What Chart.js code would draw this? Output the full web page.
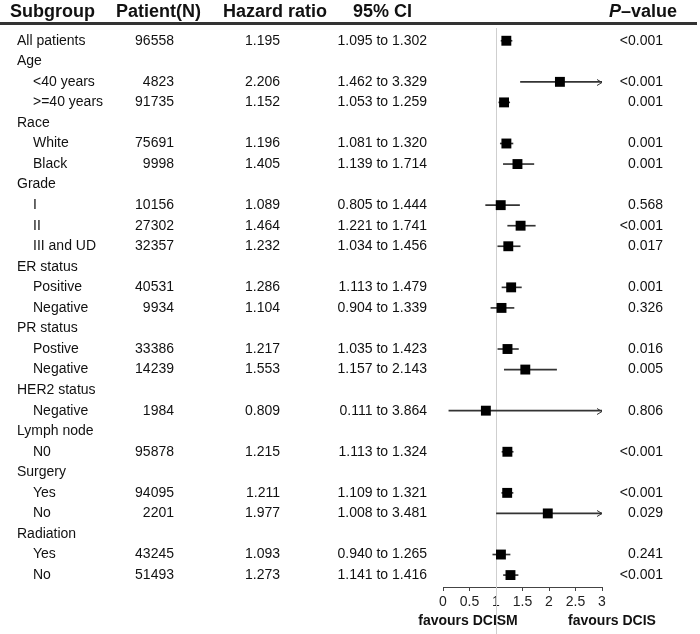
<!DOCTYPE html>
<html>
<head>
<meta charset="utf-8">
<script src="https://cdn.jsdelivr.net/npm/chart.js@4"></script>
<style>
  html, body { margin: 0; padding: 0; background: #fff; }
  #forest { display: block; }
</style>
</head>
<body>
<canvas id="forest" width="700" height="634"></canvas>
<script>
// rows top to bottom; null patients means a group heading
const subgroups = ['All patients', 'Age', '<40 years', '>=40 years', 'Race', 'White', 'Black',
    'Grade', 'I', 'II', 'III and UD', 'ER status', 'Positive', 'Negative', 'PR status', 'Postive',
    'Negative', 'HER2 status', 'Negative', 'Lymph node', 'N0', 'Surgery', 'Yes', 'No',
    'Radiation', 'Yes', 'No'];
const patients = [96558, null, 4823, 91735, null, 75691, 9998, null, 10156, 27302, 32357,
    null, 40531, 9934, null, 33386, 14239, null, 1984, null, 95878, null, 94095, 2201,
    null, 43245, 51493];
const hazard = [1.195, null, 2.206, 1.152, null, 1.196, 1.405, null, 1.089, 1.464, 1.232,
    null, 1.286, 1.104, null, 1.217, 1.553, null, 0.809, null, 1.215, null, 1.211, 1.977,
    null, 1.093, 1.273];
const ciLow = [1.095, null, 1.462, 1.053, null, 1.081, 1.139, null, 0.805, 1.221, 1.034,
    null, 1.113, 0.904, null, 1.035, 1.157, null, 0.111, null, 1.113, null, 1.109, 1.008,
    null, 0.940, 1.141];
const ciHigh = [1.302, null, 3.329, 1.259, null, 1.320, 1.714, null, 1.444, 1.741, 1.456,
    null, 1.479, 1.339, null, 1.423, 2.143, null, 3.864, null, 1.324, null, 1.321, 3.481,
    null, 1.265, 1.416];
const pValues = ['<0.001', null, '<0.001', '0.001', null, '0.001', '0.001', null, '0.568',
    '<0.001', '0.017', null, '0.001', '0.326', null, '0.016', '0.005', null, '0.806', null,
    '<0.001', null, '<0.001', '0.029', null, '0.241', '<0.001'];
const xMin = 0;
const xMax = 3;

const FONT = 'Arial, "Liberation Sans", sans-serif';

// indented if it sits below a group heading
let seenHeading = false;
const indented = subgroups.map((s, i) => {
    if (patients[i] == null) { seenHeading = true; return false; }
    return seenHeading;
});

const rowsWithData = subgroups.map((s, i) => i).filter(i => hazard[i] != null);
const ciBars = rowsWithData.map(i =>
    ({ y: i, x: [Math.max(ciLow[i], xMin), Math.min(ciHigh[i], xMax)] }));
const points = rowsWithData.map(i => ({ x: hazard[i], y: i }));

const tablePlugin = {
    id: 'table',
    beforeDatasetsDraw(chart) {
        const ctx = chart.ctx;
        const x1 = Math.round(chart.scales.x.getPixelForValue(1)) + 0.5;
        ctx.save();
        ctx.strokeStyle = '#cfcfcf';
        ctx.lineWidth = 1;
        ctx.beginPath();
        ctx.moveTo(x1, 28);
        ctx.lineTo(x1, 634);
        ctx.stroke();
        ctx.restore();
    },
    afterDraw(chart) {
        const ctx = chart.ctx;
        const xs = chart.scales.x;
        const ys = chart.scales.y;
        ctx.save();

        // header
        ctx.fillStyle = '#111';
        ctx.textBaseline = 'alphabetic';
        ctx.font = 'bold 18px ' + FONT;
        ctx.textAlign = 'left';
        ctx.fillText('Subgroup', 10, 17);
        ctx.fillText('Patient(N)', 116, 17);
        ctx.fillText('Hazard ratio', 223, 17);
        ctx.fillText('95% CI', 353, 17);
        ctx.textAlign = 'right';
        ctx.fillText('\u2013value', 677, 17);
        const w = ctx.measureText('\u2013value').width;
        ctx.font = 'italic bold 18px ' + FONT;
        ctx.fillText('P', 677 - w, 17);

        ctx.strokeStyle = '#333';
        ctx.lineWidth = 3;
        ctx.beginPath();
        ctx.moveTo(0, 23.5);
        ctx.lineTo(697, 23.5);
        ctx.stroke();

        // rows
        ctx.font = '14px ' + FONT;
        ctx.textBaseline = 'middle';
        subgroups.forEach((label, i) => {
            const y = ys.getPixelForValue(i);
            ctx.textAlign = 'left';
            ctx.fillText(label, indented[i] ? 33 : 17, y);
            if (patients[i] == null) return;
            ctx.textAlign = 'right';
            ctx.fillText(String(patients[i]), 174, y);
            ctx.fillText(hazard[i].toFixed(3), 280, y);
            ctx.fillText(ciLow[i].toFixed(3) + ' to ' + ciHigh[i].toFixed(3), 427, y);
            ctx.fillText(pValues[i], 663, y);
        });

        // arrows for intervals running past the axis
        ctx.strokeStyle = '#333';
        ctx.lineWidth = 1;
        rowsWithData.forEach(i => {
            if (ciHigh[i] <= xMax) return;
            const x = xs.getPixelForValue(xMax);
            const y = Math.round(ys.getPixelForValue(i)) + 0.5;
            ctx.beginPath();
            ctx.moveTo(x - 5, y - 3);
            ctx.lineTo(x, y);
            ctx.lineTo(x - 5, y + 3);
            ctx.stroke();
        });

        // axis captions
        ctx.fillStyle = '#111';
        ctx.font = 'bold 14px ' + FONT;
        ctx.textAlign = 'center';
        ctx.fillText('favours DCISM', 468, 621);
        ctx.fillText('favours DCIS', 612, 621);
        ctx.restore();
    }
};

new Chart(document.getElementById('forest'), {
    type: 'scatter',
    data: {
        datasets: [
            {
                type: 'scatter',
                data: points,
                pointStyle: 'rect',
                pointRadius: 7,
                pointHoverRadius: 7,
                backgroundColor: '#000',
                borderWidth: 0,
                order: 0
            },
            {
                type: 'bar',
                indexAxis: 'y',
                data: ciBars,
                barThickness: 1,
                backgroundColor: '#333',
                order: 1
            }
        ]
    },
    options: {
        responsive: false,
        animation: false,
        events: [],
        layout: { padding: { left: 443, right: 98, top: 28, bottom: 0 } },
        plugins: { legend: { display: false }, tooltip: { enabled: false } },
        scales: {
            x: {
                type: 'linear',
                min: xMin,
                max: xMax,
                offset: false,
                ticks: {
                    stepSize: 0.5,
                    color: '#222',
                    padding: 3,
                    font: { size: 14, family: FONT },
                    callback: v => String(v)
                },
                grid: { drawOnChartArea: false, tickLength: 4, color: '#444', offset: false },
                border: { color: '#444' },
                afterFit(scale) { scale.height = 47; }
            },
            y: {
                type: 'linear',
                display: false,
                reverse: true,
                offset: false,
                grid: { offset: false },
                min: -0.62,
                max: 26.58
            }
        }
    },
    plugins: [tablePlugin]
});
</script>
</body>
</html>
